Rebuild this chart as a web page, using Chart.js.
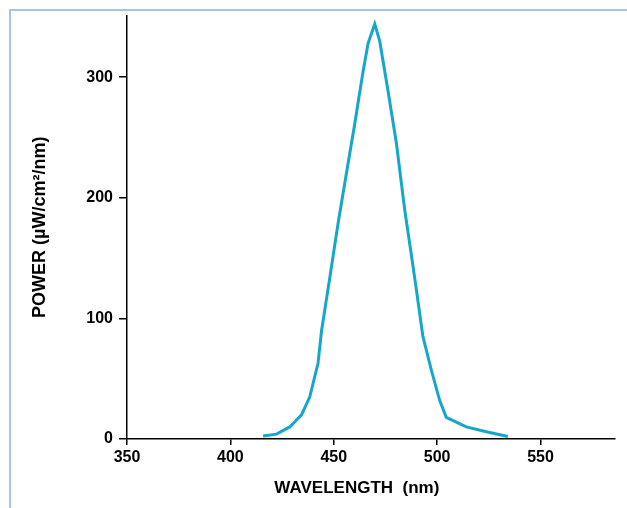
<!DOCTYPE html>
<html>
<head>
<meta charset="utf-8">
<script src="https://cdn.jsdelivr.net/npm/chart.js@4"></script>
<style>
html,body{margin:0;padding:0;background:#fff;}
#wrap{position:relative;width:627px;height:508px;overflow:hidden;}
#frame{position:absolute;left:9px;top:9px;right:-5px;bottom:-5px;border-left:2px solid #a3c3ec;border-top:2px solid #a3c3ec;}
#c{position:absolute;left:0;top:0;}
</style>
</head>
<body>
<div id="wrap">
<div id="frame"></div>
<canvas id="c" width="627" height="508"></canvas>
</div>
<script>
// spectrum
let wavelength=[415.8,422.3,428.7,434.4,438.4,442.4,444.1,448.1,452.1,456.1,460.1,464.2,466.6,469.8,472.2,476.2,480.3,484.3,489.1,493.1,497.2,501.2,504.4,514.1,523.8,534.2];
let power=[2.5,4,10,20,35,63,90,134,179,220,261,305,328,344,330,289,245,190,134,85,57,32,18,10,6,2];

let xTicks=[350,400,450,500,550];
let yTicks=[0,100,200,300];

let font="'Liberation Sans', Arial, sans-serif";

let points=wavelength.map((w,i)=>({x:w,y:power[i]}));

new Chart(document.getElementById("c"),{
type:"line",
data:{
datasets:[{
label:"Power",
data:points,
borderColor:"#17a6cb",
borderWidth:3,
pointRadius:0,
tension:0,
fill:false
}]
},
options:{
responsive:false,
animation:false,
layout:{padding:{left:0,top:15,right:12,bottom:0}},
plugins:{legend:{display:false},tooltip:{enabled:false}},
scales:{
x:{
type:"linear",
min:350,
max:586,
afterBuildTicks:s=>{s.ticks=xTicks.map(v=>({value:v}));},
afterFit:s=>{s.height=69;},
ticks:{color:"#000",font:{family:font,size:16,weight:"bold"},padding:3,maxRotation:0},
grid:{drawOnChartArea:false,drawTicks:true,tickLength:6,color:"#000",lineWidth:1.5},
border:{display:true,color:"#000",width:1.5},
// trailing spaces pull the centred title a little left, as in the original
title:{display:true,text:"WAVELENGTH  (nm)      ",color:"#000",font:{family:font,size:17,weight:"bold"},padding:{top:0,bottom:9}}
},
y:{
min:0,
max:351,
afterBuildTicks:s=>{s.ticks=yTicks.map(v=>({value:v}));},
afterFit:s=>{s.width=127;},
ticks:{color:"#000",font:{family:font,size:16,weight:"bold"},padding:6},
grid:{drawOnChartArea:false,drawTicks:true,tickLength:8,color:"#000",lineWidth:1.5},
border:{display:true,color:"#000",width:1.5},
title:{display:true,text:"POWER (µW/cm²/nm)",color:"#000",font:{family:font,size:18,weight:"bold"},padding:{top:29,bottom:0}}
}
}
}
});
</script>
</body>
</html>
